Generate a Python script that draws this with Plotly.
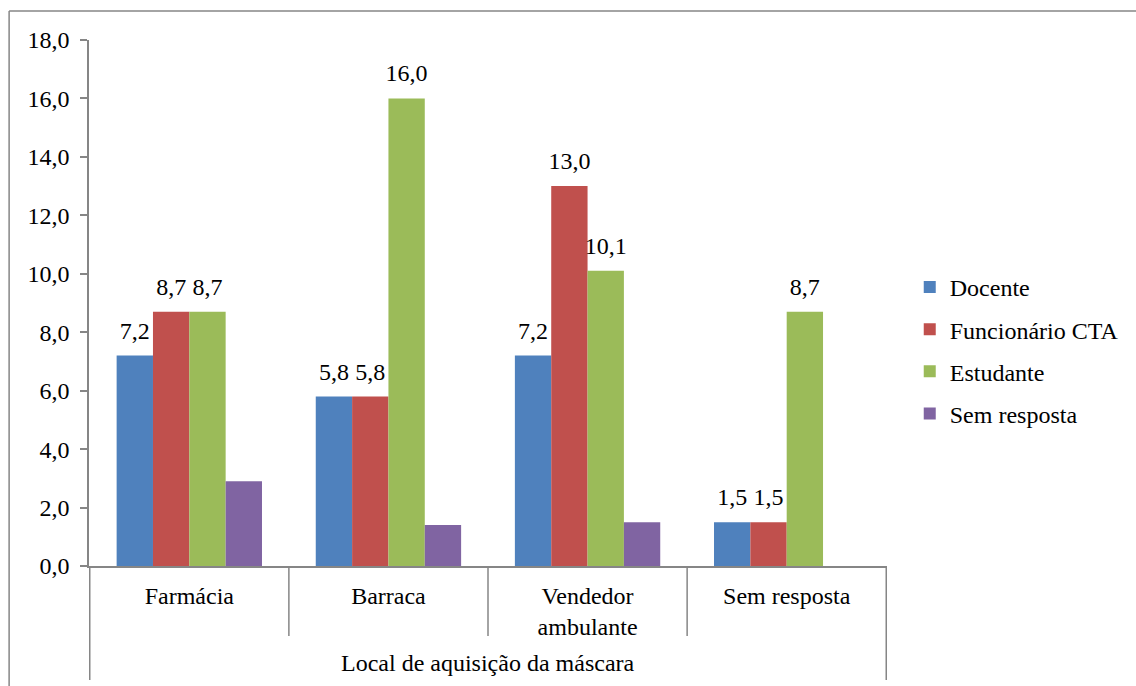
import plotly.graph_objects as go

categories = ["Farmácia", "Barraca", "Vendedor<br>ambulante", "Sem resposta"]
series_names = ["Docente", "Funcionário CTA", "Estudante", "Sem resposta"]
docente = [7.2, 5.8, 7.2, 1.5]
funcionario = [8.7, 5.8, 13.0, 1.5]
estudante = [8.7, 16.0, 10.1, 8.7]
sem_resposta = [2.9, 1.4, 1.5, None]
series_values = [docente, funcionario, estudante, sem_resposta]
show_labels = [True, True, True, False]
colors = ["#4F81BD", "#C0504D", "#9BBB59", "#8064A2"]
y_ticks = [0, 2, 4, 6, 8, 10, 12, 14, 16, 18]
x_title = "Local de aquisição da máscara"

FONT = "Liberation Serif"
FS = 24
AXIS_COLOR = "#868686"

fig = go.Figure()

for i, (name, vals, col) in enumerate(zip(series_names, series_values, colors)):
    fig.add_trace(go.Bar(
        name=name, x=categories, y=vals, marker_color=col,
        marker_line_width=0, offsetgroup=str(i), legendgroup=str(i),
        hoverinfo="x+y+name",
    ))

# value labels, grouped the same way as the bars
for i, (vals, show) in enumerate(zip(series_values, show_labels)):
    txt = [("" if (v is None or not show) else f"{v:.1f}".replace(".", ",")) for v in vals]
    fig.add_trace(go.Scatter(
        x=categories, y=[0 if v is None else v for v in vals], text=txt,
        mode="markers+text", textposition="top center",
        marker=dict(size=16, opacity=0), offsetgroup=str(i),
        textfont=dict(family=FONT, size=FS, color="black"),
        showlegend=False, hoverinfo="skip",
    ))

# category dividers below the axis
ncat = len(categories)
for k in range(ncat + 1):
    outer = k in (0, ncat)
    fig.add_shape(type="line", xref="x", yref="paper",
                  x0=k - 0.5, x1=k - 0.5, y0=0, y1=-0.2167 if outer else -0.133,
                  line=dict(color=AXIS_COLOR, width=1.5))

# outer chart border (left and top edges)
fig.add_shape(type="line", xref="paper", yref="paper",
              x0=-0.1001, x1=-0.1001, y0=-0.5, y1=1.0551,
              line=dict(color=AXIS_COLOR, width=1.5))
fig.add_shape(type="line", xref="paper", yref="paper",
              x0=-0.1001, x1=1.5, y0=1.0551, y1=1.0551,
              line=dict(color=AXIS_COLOR, width=1.5))

fig.add_annotation(text=x_title, xref="paper", yref="paper", x=0.5, y=-0.184,
                   showarrow=False, yanchor="middle",
                   font=dict(family=FONT, size=FS, color="black"))

fig.update_layout(
    width=1136, height=686,
    margin=dict(l=89, r=246, t=40, b=120),
    paper_bgcolor="white", plot_bgcolor="white",
    barmode="group", bargap=0.27, bargroupgap=0,
    scattermode="group", scattergap=0.27,
    separators=",.",
    font=dict(family=FONT, size=FS, color="black"),
    showlegend=True,
    legend=dict(x=1.0285, y=0.41, xanchor="left", yanchor="middle",
                tracegroupgap=8, font=dict(family=FONT, size=FS, color="black"),
                bgcolor="rgba(0,0,0,0)"),
    xaxis=dict(showline=True, linecolor=AXIS_COLOR, linewidth=1.5,
               ticks="outside", ticklen=7, tickcolor="rgba(0,0,0,0)",
               tickfont=dict(family=FONT, size=FS, color="black"),
               showgrid=False, zeroline=False, fixedrange=True),
    yaxis=dict(range=[0, 18], tickvals=y_ticks, tickformat=".1f",
               showline=True, linecolor=AXIS_COLOR, linewidth=1.5,
               ticks="outside", ticklen=7, tickcolor=AXIS_COLOR, tickwidth=1.5,
               ticklabelstandoff=6,
               tickfont=dict(family=FONT, size=FS, color="black"),
               showgrid=False, zeroline=False, fixedrange=True),
)

fig.write_html("out.html")
